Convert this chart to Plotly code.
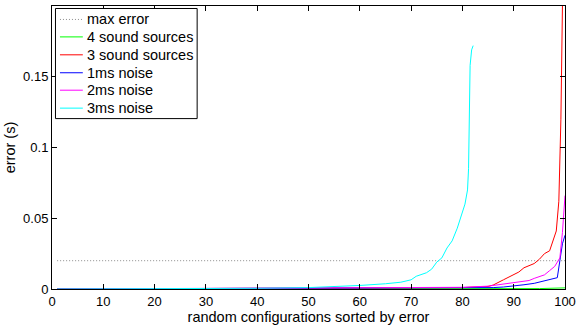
import plotly.graph_objects as go

# max error threshold
max_err_x = [1, 100]
max_err_y = [0.02, 0.02]

# 4 sound sources
green_x = [1, 60, 95, 100]
green_y = [0.0001, 0.0002, 0.0003, 0.0008]

# 3 sound sources
red_x = [1, 30, 60, 80, 85, 86, 88, 89, 90, 91, 92, 93, 94, 95, 96, 97, 97.7, 98.3, 98.8, 99.2, 99.5, 100]
red_y = [0.0, 0.0003, 0.0006, 0.001, 0.0018, 0.0028, 0.0065, 0.0085, 0.0105, 0.012, 0.015, 0.0165,
         0.018, 0.021, 0.025, 0.027, 0.034, 0.041, 0.062, 0.12, 0.2, 0.35]

# 1ms noise
blue_x = [1, 30, 60, 80, 86, 88, 90, 92, 94, 96, 97, 98, 98.5, 99, 99.5, 100]
blue_y = [0.0, 0.0002, 0.0004, 0.0007, 0.001, 0.0014, 0.002, 0.003, 0.004, 0.0058, 0.0068, 0.0075,
          0.008, 0.02, 0.032, 0.038]

# 2ms noise
magenta_x = [1, 30, 60, 80, 85, 87, 89, 91, 93, 94, 95, 96, 97, 98, 99, 99.5, 100]
magenta_y = [0.0, 0.0004, 0.0008, 0.0012, 0.002, 0.003, 0.0035, 0.0045, 0.006, 0.0075, 0.009, 0.01,
             0.013, 0.016, 0.022, 0.04, 0.066]

# 3ms noise
cyan_x = [1, 30, 40, 50, 55, 60, 65, 68, 70, 71, 73, 74, 75, 76, 77, 78, 79, 80, 80.5, 81, 81.2,
          81.5, 81.8, 82.1]
cyan_y = [0.0, 0.0002, 0.0005, 0.001, 0.0015, 0.0025, 0.0037, 0.0048, 0.0065, 0.009, 0.0115, 0.014,
          0.019, 0.022, 0.029, 0.034, 0.043, 0.054, 0.06, 0.07, 0.085, 0.158, 0.169, 0.172]

series_names = ["max error", "4 sound sources", "3 sound sources", "1ms noise", "2ms noise", "3ms noise"]
series_colors = ["#8c8c8c", "#00ff00", "#ff0000", "#0000ff", "#ff00ff", "#00ffff"]
series_dash = ["1px,2px", "solid", "solid", "solid", "solid", "solid"]

x_ticks = [0, 10, 20, 30, 40, 50, 60, 70, 80, 90, 100]
y_ticks = [0, 0.05, 0.1, 0.15, 0.2]

FONT = "Liberation Sans, Arial, Helvetica, sans-serif"
W, H = 581, 330
ML, MR, MT, MB = 52, 13, 5, 41
PW, PH = W - ML - MR, H - MT - MB


def fx(px):
    return (px - ML) / PW


def fy(py):
    return (H - MB - py) / PH


fig = go.Figure()
data_x = [max_err_x, green_x, red_x, blue_x, magenta_x, cyan_x]
data_y = [max_err_y, green_y, red_y, blue_y, magenta_y, cyan_y]
for name, xs, ys, col, dash in zip(series_names, data_x, data_y, series_colors, series_dash):
    fig.add_trace(go.Scatter(x=xs, y=ys, mode="lines", name=name, showlegend=False,
                             line=dict(color=col, width=1, dash=dash)))

# legend box (drawn inside the axes, MATLAB style)
shapes = [dict(type="rect", xref="x domain", yref="y domain",
               x0=fx(55.5), x1=fx(198), y0=fy(118), y1=fy(7.5),
               line=dict(color="black", width=1), fillcolor="white", layer="above")]
annotations = []
leg_y = [18.5, 36, 54, 72, 89.5, 107.5]
for i, (name, col, dash) in enumerate(zip(series_names, series_colors, series_dash)):
    shapes.append(dict(type="line", xref="x domain", yref="y domain",
                       x0=fx(60), x1=fx(83), y0=fy(leg_y[i]), y1=fy(leg_y[i]),
                       line=dict(color=col, width=1, dash=dash), layer="above"))
    annotations.append(dict(xref="x domain", yref="y domain", x=fx(85), y=fy(leg_y[i]),
                            text=name, showarrow=False, xanchor="left", yanchor="middle",
                            font=dict(family=FONT, size=14.5, color="black")))

fig.update_layout(
    width=W, height=H,
    margin=dict(l=ML, r=MR, t=MT, b=MB),
    paper_bgcolor="white", plot_bgcolor="white",
    font=dict(family=FONT, size=13, color="black"),
    showlegend=False,
    shapes=shapes, annotations=annotations,
)
fig.update_xaxes(range=[0, 100], tickvals=x_ticks, ticks="inside", ticklen=5, tickcolor="black",
                 showline=True, linecolor="black", linewidth=1, mirror="ticks",
                 showgrid=False, zeroline=False, tickfont=dict(size=13),
                 title=dict(text="random configurations sorted by error", standoff=2,
                            font=dict(size=14.5)))
fig.update_yaxes(range=[0, 0.2], tickvals=y_ticks, ticks="inside", ticklen=5, tickcolor="black",
                 showline=True, linecolor="black", linewidth=1, mirror="ticks",
                 showgrid=False, zeroline=False, tickfont=dict(size=13),
                 title=dict(text="error (s)", standoff=4, font=dict(size=14.5)))

fig.write_html("out.html", config={"displayModeBar": False},
               post_script="document.body.style.margin='0';")
